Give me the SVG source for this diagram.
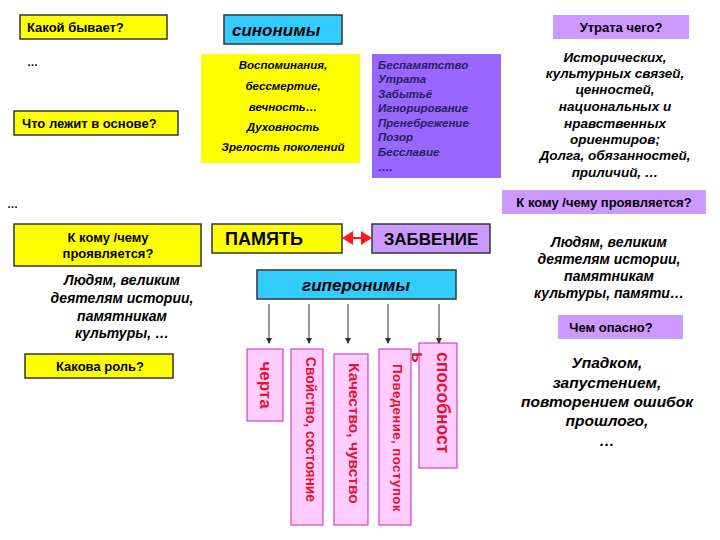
<svg xmlns="http://www.w3.org/2000/svg" width="720" height="540" viewBox="0 0 720 540">
<defs>
<style>
.t{font-family:"Liberation Sans",Arial,sans-serif;font-weight:bold;fill:#000}
.i{font-style:italic}
.c{text-anchor:middle}
.yb{fill:#ffff00;stroke:#333;stroke-width:1.5}
.cb{fill:#33ccff;stroke:#333;stroke-width:1.5}
.pl{fill:#cc99ff}
.pk{fill:#ffccff;stroke:#cc44cc;stroke-width:1.2}
.rt{font-family:"Liberation Sans",Arial,sans-serif;font-weight:bold;fill:#e8112d}
.ln{stroke:#333;stroke-width:1;fill:none}
</style>
<marker id="ah" markerWidth="6" markerHeight="6" refX="5" refY="3" orient="auto" markerUnits="userSpaceOnUse">
<path d="M0,0 L6,3 L0,6 Z" fill="#333"/>
</marker>
</defs>
<rect width="720" height="540" fill="#fff"/>

<g id="q-kakoy">
<rect class="yb" x="20" y="15" width="147" height="24"/>
<text class="t" x="27" y="32" font-size="13">Какой бывает?</text>
</g>
<g id="dots1"><text class="t" x="27" y="66" font-size="11">…</text></g>
<g id="q-osnova">
<rect class="yb" x="14" y="111" width="164" height="24"/>
<text class="t" x="22" y="128" font-size="13">Что лежит в основе?</text>
</g>

<g id="sinonimy">
<rect class="cb" x="224" y="15" width="118" height="29"/>
<text class="t i" x="232" y="36" font-size="17">синонимы</text>
</g>
<g id="syn-list">
<rect x="201" y="54" width="159" height="109" fill="#ffff00"/>
<g class="t i c" font-size="11.5">
<text x="283" y="69">Воспоминания,</text>
<text x="283" y="90">бессмертие,</text>
<text x="283" y="111">вечность…</text>
<text x="283" y="131">Духовность</text>
<text x="283" y="151">Зрелость поколений</text>
</g>
</g>
<g id="ant-list">
<rect x="372" y="54" width="129" height="124" fill="#9966ff"/>
<g class="t i" font-size="11.5" style="fill:#22225a">
<text x="378" y="69">Беспамятство</text>
<text x="378" y="83">Утрата</text>
<text x="378" y="98">Забытьё</text>
<text x="378" y="112">Игнорирование</text>
<text x="378" y="127">Пренебрежение</text>
<text x="378" y="141">Позор</text>
<text x="378" y="156">Бесславие</text>
<text x="378" y="171">….</text>
</g>
</g>

<g id="q-utrata">
<rect class="pl" x="553" y="15" width="136" height="24"/>
<text class="t c" x="621" y="32" font-size="13">Утрата чего?</text>
</g>
<g id="a-utrata" class="t i c" font-size="13.5">
<text x="615" y="62">Исторических,</text>
<text x="615" y="78">культурных связей,</text>
<text x="615" y="94">ценностей,</text>
<text x="615" y="111">национальных и</text>
<text x="615" y="128">нравственных</text>
<text x="615" y="144">ориентиров;</text>
<text x="615" y="160">Долга, обязанностей,</text>
<text x="615" y="177">приличий, …</text>
</g>

<g id="q-komu-r">
<rect class="pl" x="502" y="190" width="204" height="24"/>
<text class="t c" x="604" y="207" font-size="13">К кому /чему проявляется?</text>
</g>
<g id="dots2"><text class="t" x="7" y="208" font-size="11">…</text></g>

<g id="q-komu-l">
<rect class="yb" x="14" y="224" width="187" height="42"/>
<text class="t c" x="108" y="242" font-size="13">К кому /чему</text>
<text class="t c" x="108" y="258" font-size="13">проявляется?</text>
</g>
<g id="pamyat">
<rect class="yb" x="212" y="224" width="130" height="29"/>
<text class="t c" x="264" y="245" font-size="18">ПАМЯТЬ</text>
</g>
<g id="zabvenie">
<rect x="372" y="224" width="118" height="29" fill="#cc99ff" stroke="#333" stroke-width="1.5"/>
<text class="t c" x="431" y="245" font-size="17">ЗАБВЕНИЕ</text>
</g>
<g id="giperonimy">
<rect class="cb" x="257" y="270" width="199" height="29"/>
<text class="t i c" x="356" y="291" font-size="17">гиперонимы</text>
</g>

<g id="a-komu-l" class="t i c" font-size="14">
<text x="122" y="285">Людям, великим</text>
<text x="122" y="303">деятелям истории,</text>
<text x="122" y="321">памятникам</text>
<text x="122" y="338">культуры, …</text>
</g>
<g id="q-rol">
<rect class="yb" x="25" y="354" width="148" height="24"/>
<text class="t c" x="100" y="371" font-size="13">Какова роль?</text>
</g>

<g id="a-komu-r" class="t i c" font-size="14">
<text x="609" y="247">Людям, великим</text>
<text x="609" y="264">деятелям истории,</text>
<text x="609" y="281">памятникам</text>
<text x="609" y="298">культуры, памяти…</text>
</g>
<g id="q-opasno">
<rect class="pl" x="558" y="315" width="125" height="24"/>
<text class="t c" x="611" y="332" font-size="13">Чем опасно?</text>
</g>
<g id="a-opasno" class="t i c" font-size="15.5">
<text x="607" y="368">Упадком,</text>
<text x="607" y="388">запустением,</text>
<text x="607" y="407">повторением ошибок</text>
<text x="607" y="426">прошлого,</text>
<text x="607" y="446">…</text>
</g>

<g id="h-cherta">
<rect class="pk" x="247" y="349" width="36" height="72"/>
<text class="rt c" font-size="17" transform="translate(265,385) rotate(90)" dominant-baseline="central">черта</text>
</g>
<g id="h-svoystvo">
<rect class="pk" x="291" y="349" width="32" height="176"/>
<text class="rt" font-size="13.8" transform="translate(310,357) rotate(90)" dominant-baseline="central">Свойство, состояние</text>
</g>
<g id="h-kachestvo">
<rect class="pk" x="334" y="354" width="34" height="171"/>
<text class="rt" font-size="15.5" transform="translate(354,363) rotate(90)" dominant-baseline="central">Качество, чувство</text>
</g>
<g id="h-povedenie">
<rect class="pk" x="379" y="349" width="32" height="176"/>
<text class="rt" font-size="13.3" letter-spacing="0.4" transform="translate(397,364) rotate(90)" dominant-baseline="central">Поведение, поступок</text>
</g>
<g id="h-sposobnost">
<rect class="pk" x="419" y="343" width="38" height="125"/>
<text class="rt" font-size="17.5" transform="translate(443,352) rotate(90)" dominant-baseline="central">способност</text>
<text class="rt" font-size="17.5" transform="translate(418,352) rotate(90)" dominant-baseline="central">ь</text>
</g>

<g id="connectors">
<line x1="352" y1="238" x2="362" y2="238" stroke="#ff1a1a" stroke-width="2"/>
<path d="M342,238 L353,231 L353,245 Z" fill="#ff1a1a"/>
<path d="M372,238 L361,231 L361,245 Z" fill="#ff1a1a"/>
<line class="ln" x1="269" y1="304" x2="269" y2="343" marker-end="url(#ah)"/>
<line class="ln" x1="309" y1="304" x2="309" y2="343" marker-end="url(#ah)"/>
<line class="ln" x1="348" y1="304" x2="348" y2="343" marker-end="url(#ah)"/>
<line class="ln" x1="388" y1="304" x2="388" y2="343" marker-end="url(#ah)"/>
<line class="ln" x1="439" y1="304" x2="439" y2="343" marker-end="url(#ah)"/>
</g>
</svg>
